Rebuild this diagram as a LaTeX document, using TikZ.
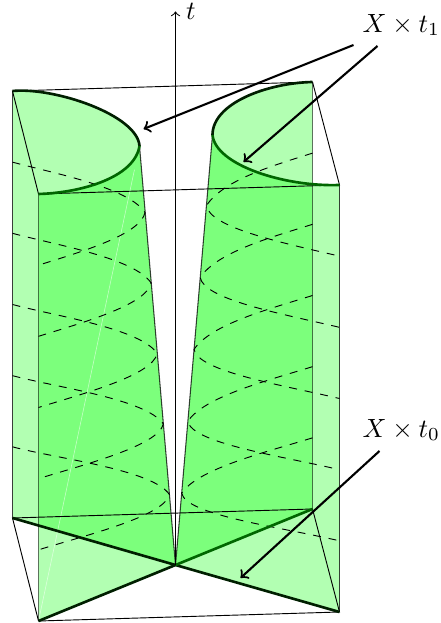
\documentclass[tikz,border=0pt]{standalone}
\usepackage{amsmath}
\usepackage{amssymb}
\usetikzlibrary{calc}

\tikzset{
  sheet/.style={fill=green, fill opacity=0.3},
  edge/.style={draw=black, draw opacity=0.75, line width=0.4pt},
  rimback/.style={line width=1pt, black!88!green},
  rimfront/.style={line width=1pt, black!60!green},
  frame/.style={line width=0.35pt, black},
  level/.style={dashed, line width=0.35pt, black},
  pointer/.style={->, thick}
}

\begin{document}
\begin{tikzpicture}
        \useasboundingbox (-2.34,-0.7733) rectangle (3.5267,7.5333);

        \coordinate (O) at (0,0);
        \coordinate (A) at (-2.1733,6.32);
        \coordinate (B) at (1.8267,6.44);
        \coordinate (C) at (2.1867,5.0667);
        \coordinate (D) at (-1.8267,4.9467);
        \coordinate (E) at (-2.1733,0.6267);
        \coordinate (F) at (1.8267,0.7467);
        \coordinate (G) at (2.1867,-0.6267);
        \coordinate (H) at (-1.8267,-0.7467);
        \coordinate (P) at (-0.48,5.5867);
        \coordinate (Q) at (0.4933,5.7333);
        \coordinate (Pl) at (-0.4867,5.64);
        \coordinate (Ql) at (0.4933,5.75);

        \coordinate (a1) at (-1.6133,6.3733);
        \coordinate (a2) at (-0.5067,6.0);
        \coordinate (d1) at (-1.28,4.96);
        \coordinate (d2) at (-0.5467,5.16);
        \coordinate (b1) at (1.2267,6.4267);
        \coordinate (b2) at (0.4933,6.16);
        \coordinate (c1) at (1.4533,5.04);
        \coordinate (c2) at (0.5333,5.3333);

        % the two sheets, each made of a back and a front part
        \fill[sheet] (E) -- (A) .. controls (a1) and (a2) .. (P) -- (O) -- cycle;
        \fill[sheet] (H) -- (D) .. controls (d1) and (d2) .. (P) -- (O) -- cycle;
        \fill[sheet] (F) -- (B) .. controls (b1) and (b2) .. (Q) -- (O) -- cycle;
        \fill[sheet] (G) -- (C) .. controls (c1) and (c2) .. (Q) -- (O) -- cycle;

        % seam
        \draw[white, opacity=0.6, line width=0.2pt] (H) -- ($(H)!0.95!(P)$);

        % edges
        \draw[edge] (E) -- (A);
        \draw[edge, draw opacity=0.55] (H) -- (D);
        \draw[edge, draw opacity=0.55] (F) -- (B);
        \draw[edge] (G) -- (C);
        \draw[edge] (P) -- (O) -- (Q);

        % the box
        \draw[frame] (A) -- (B) -- (C) -- (D) -- cycle;
        \draw[frame] (E) -- (F) -- (G) -- (H) -- cycle;

        % levels
        \foreach \s in {1,...,5} {
            \draw[level] ($(A)!\s/6!(E)$) .. controls +(0.6,-0.16) and +(-0.2267,0.3333) .. ($(Pl)!\s/6!(O)$)
                .. controls +(-0.0667,-0.2933) and +(0.6,0.1867) .. ($(D)!\s/6!(H)$);
            \draw[level] ($(B)!\s/6!(F)$) .. controls +(-0.6,-0.1867) and +(0.2267,0.3333) .. ($(Ql)!\s/6!(O)$)
                .. controls +(0.0533,-0.2933) and +(-0.8,0.1867) .. ($(C)!\s/6!(G)$);
        }

        % top and bottom rims
        \draw[rimback] (A) .. controls (a1) and (a2) .. (P);
        \draw[rimfront] (D) .. controls (d1) and (d2) .. (P);
        \draw[rimback] (B) .. controls (b1) and (b2) .. (Q);
        \draw[rimfront] (C) .. controls (c1) and (c2) .. (Q);
        \draw[rimback] (E) -- (O);
        \draw[rimback] (H) -- (O) -- (G);
        \draw[rimfront] (O) -- (F);

        % axis
        \draw[->] (O) -- (0,7.38) node[anchor=west, xshift=0.5pt, yshift=0pt] (tlabel) {$t$};

        % labels
        \node (topLabel) at (3.01,7.2) {$X \times t_1$};
        \node (botLabel) at (3.01,1.8) {$X \times t_0$};
        \coordinate (topLeftEnd) at (-0.4267,5.8133);
        \coordinate (topRightEnd) at (0.9067,5.3733);
        \coordinate (botEnd) at (0.8667,-0.1733);
        \coordinate (topLeftStart) at (2.3733,6.9333);
        \coordinate (topRightStart) at (2.6933,6.92);
        \coordinate (botStart) at (2.72,1.52);
        \draw[pointer] (topLeftStart) -- (topLeftEnd);
        \draw[pointer] (topRightStart) -- (topRightEnd);
        \draw[pointer] (botStart) -- (botEnd);
\end{tikzpicture}
\end{document}
